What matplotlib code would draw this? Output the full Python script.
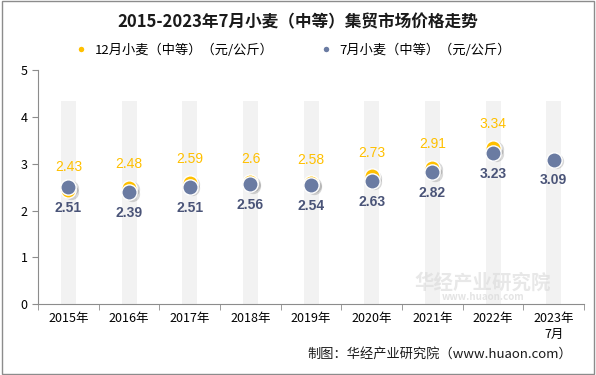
import matplotlib.pyplot as plt
import numpy as np

plt.rcParams['font.family'] = ['Noto Sans CJK SC', 'DejaVu Sans']

years = ['2015年', '2016年', '2017年', '2018年', '2019年', '2020年', '2021年', '2022年', '2023年\n7月']
dec_price = [2.43, 2.48, 2.59, 2.6, 2.58, 2.73, 2.91, 3.34, None]
jul_price = [2.51, 2.39, 2.51, 2.56, 2.54, 2.63, 2.82, 3.23, 3.09]
band_height = 4.35

yellow = '#FFC000'
blue = '#6A7BA2'
dark = '#4A5478'

fig = plt.figure(figsize=(5.96, 3.75), dpi=100)
fig.patches.append(plt.Rectangle((0.003, 0.003), 0.994, 0.994, transform=fig.transFigure,
                                 fill=False, edgecolor='#8c8c8c', linewidth=1))
ax = fig.add_axes([0.064, 0.189, 0.916, 0.624])

x = np.arange(len(years))
ax.bar(x, [band_height] * len(x), width=0.25, color='#f2f2f2', zorder=0)

dx = [i for i, v in enumerate(dec_price) if v is not None]
dv = [v for v in dec_price if v is not None]

# soft shadows
ax.plot(np.array(dx) + 0.04, np.array(dv) - 0.03, 'o', ms=11, color='#000000', alpha=0.15,
        mec='none', zorder=2)
ax.plot(x + 0.04, np.array(jul_price) - 0.03, 'o', ms=11, color='#000000', alpha=0.15,
        mec='none', zorder=3)

ax.plot(dx, dv, 'o', ms=11, color=yellow, mec='white', mew=1, zorder=4,
        label='12月小麦（中等）（元/公斤）')
ax.plot(x, jul_price, 'o', ms=11, color=blue, mec='white', mew=1, zorder=5,
        label='7月小麦（中等）（元/公斤）')

for i, v in zip(dx, dv):
    ax.annotate(f'{v:g}', (i, v), xytext=(0, 12), textcoords='offset points',
                ha='center', va='bottom', color=yellow, fontsize=10,
                family=['Liberation Sans', 'DejaVu Sans'])
for i, v in zip(x, jul_price):
    ax.annotate(f'{v:g}', (i, v), xytext=(0, -10), textcoords='offset points',
                ha='center', va='top', color=dark, fontsize=10, fontweight='bold',
                family=['Liberation Sans', 'DejaVu Sans'])

ax.set_xlim(-0.5, len(years) - 0.5)
ax.set_ylim(0, 5)
ax.set_yticks(range(0, 6))
ax.set_xticks(x)
ax.set_xticklabels(years, fontsize=9)
ax.set_xticks(np.arange(-0.5, len(years)), minor=True)
ax.tick_params(axis='x', which='major', length=0, pad=6)
ax.tick_params(axis='x', which='minor', length=4, color='#8c8c8c')
ax.tick_params(axis='y', length=4, color='#8c8c8c', labelsize=9)
for s in ['top', 'right']:
    ax.spines[s].set_visible(False)
for s in ['left', 'bottom']:
    ax.spines[s].set_color('#8c8c8c')

fig.text(0.5, 0.94, '2015-2023年7月小麦（中等）集贸市场价格走势', ha='center', va='center',
         fontsize=12, fontweight='bold', color='#1a1a1a')
ax.legend(loc='upper center', bbox_to_anchor=(0.46, 1.165), ncol=2, frameon=False, fontsize=9.5,
          handletextpad=0.0, columnspacing=3, markerscale=0.45)

# faint watermark, kept inside the plot so it does not collide with tick labels
fig.text(0.81, 0.245, '华经产业研究院', ha='center', va='center', fontsize=14,
         color='#d9d9d9', alpha=0.6, fontweight='bold')
fig.text(0.81, 0.207, 'www.huaon.com', ha='center', va='center', fontsize=7,
         color='#d9d9d9', alpha=0.7, fontweight='bold')
fig.text(0.96, 0.055, '制图：华经产业研究院（www.huaon.com）', ha='right', va='center',
         fontsize=9.5, color='#1a1a1a')

fig.savefig('out.png', dpi=100)
